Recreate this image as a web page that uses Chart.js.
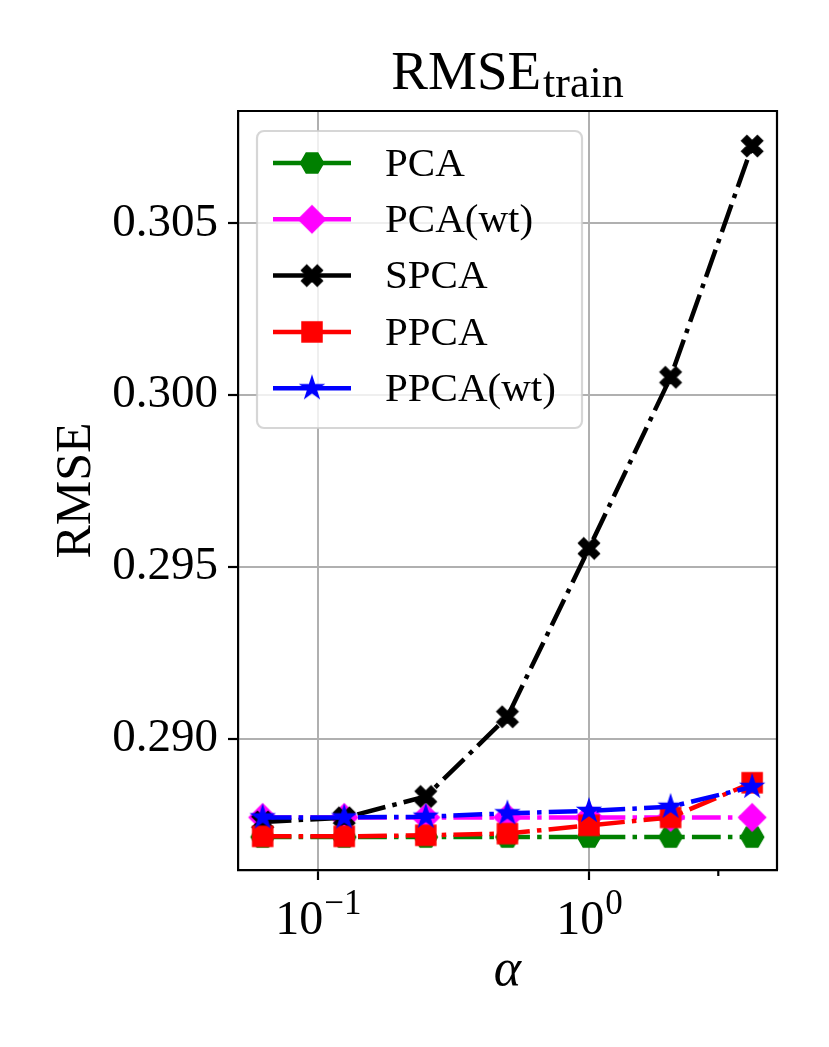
<!DOCTYPE html>
<html><head><meta charset="utf-8">
<script src="https://cdn.jsdelivr.net/npm/chart.js@4"></script>
<style>html,body{margin:0;padding:0;background:#fff;} canvas{display:block;}</style>
</head><body>
<canvas id="c" width="829" height="1047" style="width:829px;height:1047px"></canvas>
<script>
// ---- data ----
const alphas   = [0.0625, 0.125, 0.25, 0.5, 1, 2, 4];
const pca      = [0.28714, 0.28714, 0.28714, 0.28714, 0.28714, 0.28714, 0.28714];
const pcaWt    = [0.28771, 0.28771, 0.28771, 0.28771, 0.28771, 0.28771, 0.28771];
const spca     = [0.28758, 0.28770, 0.28832, 0.29064, 0.29554, 0.30052, 0.30725];
const ppca     = [0.28716, 0.28716, 0.28719, 0.28724, 0.28748, 0.28771, 0.28872];
const ppcaWt   = [0.28771, 0.28771, 0.28773, 0.28783, 0.28790, 0.28802, 0.28860];
const seriesLabels = ['PCA', 'PCA(wt)', 'SPCA', 'PPCA', 'PPCA(wt)'];
const xMajorTicks = [0.1, 1];
const xMinorTicks = [3];
const yTicks = [0.290, 0.295, 0.300, 0.305];
const xRange = [0.0507, 4.94];
const yRange = [0.28618, 0.30827];

const SERIF = '"Liberation Serif", "DejaVu Serif", serif';

// ---- marker factory ----
function makeMarker(shape, color) {
  const S = 34, c = document.createElement('canvas');
  c.width = S; c.height = S;
  const g = c.getContext('2d');
  g.translate(S/2, S/2);
  g.fillStyle = color; g.strokeStyle = color; g.lineWidth = 1.5; g.lineJoin = 'miter';
  g.beginPath();
  let pts = [];
  if (shape === 'hex') {
    for (let k = 0; k < 6; k++) { const t = k*Math.PI/3; pts.push([11.5*Math.cos(t), 11.5*Math.sin(t)]); }
  } else if (shape === 'diamond') {
    pts = [[0,-13.5],[13.5,0],[0,13.5],[-13.5,0]];
  } else if (shape === 'x') {
    const q = 5.25, h = 10.5;
    pts = [[q,0],[h,-q],[q,-h],[0,-q],[-q,-h],[-h,-q],[-q,0],[-h,q],[-q,h],[0,q],[q,h],[h,q]];
  } else if (shape === 'square') {
    pts = [[-10,-10],[10,-10],[10,10],[-10,10]];
  } else if (shape === 'star') {
    const R = 11.5, r = R*0.381966;
    for (let k = 0; k < 10; k++) {
      const t = -Math.PI/2 + k*Math.PI/5, rr = k%2 ? r : R;
      pts.push([rr*Math.cos(t), rr*Math.sin(t)]);
    }
  }
  pts.forEach((p,i) => i ? g.lineTo(p[0],p[1]) : g.moveTo(p[0],p[1]));
  g.closePath(); g.fill(); g.stroke();
  return c;
}

const colors = ['#008000', '#ff00ff', '#000000', '#ff0000', '#0000ff'];
const shapes = ['hex', 'diamond', 'x', 'square', 'star'];
const values = [pca, pcaWt, spca, ppca, ppcaWt];
const LW = 4.5;
const DASH = [6.4*LW, 1.6*LW, 1*LW, 1.6*LW];

const datasets = seriesLabels.map((lab, i) => ({
  label: lab,
  data: alphas.map((a, j) => ({x: a, y: values[i][j]})),
  borderColor: colors[i],
  backgroundColor: colors[i],
  borderWidth: LW,
  borderDash: DASH,
  borderCapStyle: 'butt',
  tension: 0,
  fill: false,
  pointStyle: makeMarker(shapes[i], colors[i]),
  pointRadius: 10,
  pointHoverRadius: 10,
  order: seriesLabels.length - i
}));

function drawLegend(chart) {
  const ctx = chart.ctx, a = chart.chartArea;
  const bx = a.left + 19, by = a.top + 20, bw = 325, bh = 297, r = 7;
  ctx.save();
  ctx.setLineDash([]);
  ctx.beginPath();
  ctx.moveTo(bx + r, by);
  ctx.arcTo(bx + bw, by, bx + bw, by + bh, r);
  ctx.arcTo(bx + bw, by + bh, bx, by + bh, r);
  ctx.arcTo(bx, by + bh, bx, by, r);
  ctx.arcTo(bx, by, bx + bw, by, r);
  ctx.closePath();
  ctx.fillStyle = 'rgba(255,255,255,0.8)';
  ctx.fill();
  ctx.strokeStyle = 'rgba(204,204,204,0.8)';
  ctx.lineWidth = 2.2;
  ctx.stroke();
  chart.data.datasets.forEach((ds, i) => {
    const y = by + 32 + i * 56.3;
    ctx.strokeStyle = ds.borderColor;
    ctx.lineWidth = ds.borderWidth;
    ctx.lineCap = 'butt';
    ctx.beginPath(); ctx.moveTo(bx + 16, y); ctx.lineTo(bx + 94, y); ctx.stroke();
    const m = ds.pointStyle;
    ctx.drawImage(m, bx + 55 - m.width/2, y - m.height/2);
    ctx.fillStyle = '#000';
    ctx.font = `41px ${SERIF}`;
    ctx.textAlign = 'left';
    ctx.textBaseline = 'middle';
    ctx.fillText(ds.label, bx + 128, y + 2);
  });
  ctx.restore();
}

const decor = {
  id: 'decor',
  afterDatasetsDraw(chart) { drawLegend(chart); },
  afterDraw(chart) {
    const ctx = chart.ctx, a = chart.chartArea, xs = chart.scales.x;
    ctx.save();
    ctx.setLineDash([]);
    ctx.strokeStyle = '#000'; ctx.lineWidth = 2.2;
    ctx.beginPath();
    ctx.moveTo(a.left, a.top); ctx.lineTo(a.right, a.top); ctx.lineTo(a.right, a.bottom);
    ctx.stroke();
    xMinorTicks.forEach(v => {
      const px = xs.getPixelForValue(v);
      ctx.beginPath(); ctx.moveTo(px, a.bottom); ctx.lineTo(px, a.bottom + 6); ctx.stroke();
    });
    ctx.fillStyle = '#000';
    ctx.textBaseline = 'alphabetic';
    xs.ticks.forEach(t => {
      const px = xs.getPixelForValue(t.value);
      const e = Math.round(Math.log10(t.value));
      const base = '10', sup = e < 0 ? '\u2212' + (-e) : String(e);
      ctx.font = `48px ${SERIF}`; const wb = ctx.measureText(base).width;
      ctx.font = `35px ${SERIF}`; const ws = ctx.measureText(sup).width;
      const x0 = px - (wb + ws) / 2;
      ctx.textAlign = 'left';
      ctx.font = `48px ${SERIF}`; ctx.fillText(base, x0, a.bottom + 64);
      ctx.font = `35px ${SERIF}`; ctx.fillText(sup, x0 + wb + 1, a.bottom + 44);
    });
    // x label
    ctx.textAlign = 'center';
    ctx.font = `italic 52px ${SERIF}`;
    ctx.fillText('\u03B1', (a.left + a.right) / 2, a.bottom + 115);
    // y label
    ctx.save();
    ctx.translate(a.left - 148, (a.top + a.bottom) / 2);
    ctx.rotate(-Math.PI / 2);
    ctx.font = `50px ${SERIF}`;
    ctx.textAlign = 'center';
    ctx.fillText('RMSE', 0, 0);
    ctx.restore();
    // title
    ctx.font = `55px ${SERIF}`; const wt = ctx.measureText('RMSE').width;
    ctx.font = `44px ${SERIF}`; const wsub = ctx.measureText('train').width;
    const tx = (a.left + a.right) / 2 - (wt + wsub + 2) / 2;
    ctx.textAlign = 'left';
    ctx.font = `55px ${SERIF}`; ctx.fillText('RMSE', tx, a.top - 22);
    ctx.font = `44px ${SERIF}`; ctx.fillText('train', tx + wt + 2, a.top - 14);
    ctx.restore();
  }
};

new Chart(document.getElementById('c'), {
  type: 'line',
  data: { datasets },
  options: {
    responsive: false,
    animation: false,
    events: [],
    layout: { padding: { left: 0, top: 111, right: 52, bottom: 0 } },
    plugins: { legend: { display: false }, title: { display: false }, tooltip: { enabled: false } },
    scales: {
      x: {
        type: 'logarithmic',
        min: xRange[0], max: xRange[1],
        afterBuildTicks: s => { s.ticks = xMajorTicks.map(v => ({ value: v })); },
        afterFit: s => { s.height = 177; },
        ticks: { display: false },
        grid: { color: '#b0b0b0', lineWidth: 2, drawTicks: true, tickLength: 10, tickColor: '#000', tickWidth: 2.2 },
        border: { display: true, color: '#000', width: 2.2 }
      },
      y: {
        type: 'linear',
        min: yRange[0], max: yRange[1],
        afterBuildTicks: s => { s.ticks = yTicks.map(v => ({ value: v })); },
        afterFit: s => { s.width = 238; },
        ticks: { color: '#000', padding: 10, font: { family: SERIF, size: 47 }, callback: v => Number(v).toFixed(3) },
        grid: { color: '#b0b0b0', lineWidth: 2, drawTicks: true, tickLength: 10, tickColor: '#000', tickWidth: 2.2 },
        border: { display: true, color: '#000', width: 2.2 }
      }
    }
  },
  plugins: [decor]
});
</script>
</body></html>
